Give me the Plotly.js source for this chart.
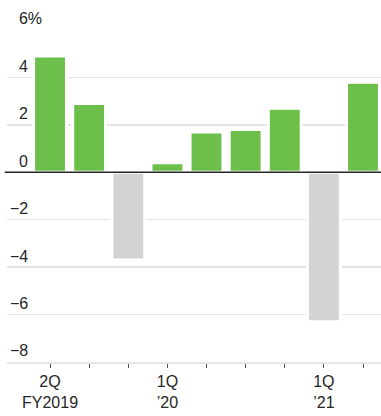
<!DOCTYPE html>
<html>
<head>
<meta charset="utf-8">
<script src="https://cdn.plot.ly/plotly-3.0.1.min.js"></script>
<style>
  html, body { margin: 0; padding: 0; background: #fff; }
  #chart { width: 381px; height: 416px; }
</style>
</head>
<body>
<div id="chart"></div>
<script>
// Quarterly change, percent
const quarters = ["2Q FY2019", "3Q FY2019", "4Q FY2019", "1Q FY2020", "2Q FY2020",
                  "3Q FY2020", "4Q FY2020", "1Q FY2021", "2Q FY2021"];
const changePct = [4.9, 2.9, -3.7, 0.4, 1.7, 1.8, 2.7, -6.3, 3.8];

const xTickText = ["2Q<br>FY2019", "", "", "1Q<br>\u201920", "", "", "", "1Q<br>\u201921", ""];
const yTickVals = [-8, -6, -4, -2, 0, 2, 4, 6];
const yTickText = ["\u22128", "\u22126", "\u22124", "\u22122", "0", "2", "4", "6%"];

const GREEN = "#6cbf4b";
const GREY = "#d3d3d3";
const INK = "#262626";

// positive labels get a figure space so digits line up and the minus hangs left
const yLabels = yTickText.map(t => t.startsWith("\u2212") ? t : "\u2007" + t);

const trace = {
  type: "bar",
  x: quarters,
  y: changePct,
  width: 0.84,
  marker: {
    color: changePct.map(v => v >= 0 ? GREEN : GREY),
    line: { color: "#ffffff", width: 3 }
  },
  hoverinfo: "x+y"
};

const layout = {
  width: 381,
  height: 416,
  margin: { l: 7, r: 0, t: 30, b: 54 },
  paper_bgcolor: "#ffffff",
  plot_bgcolor: "#ffffff",
  showlegend: false,
  font: { family: "Liberation Sans, Arial, sans-serif", size: 16, color: INK },
  bargap: 0,
  xaxis: {
    type: "category",
    range: [-1.1, 8.46],
    tickvals: quarters,
    ticktext: xTickText,
    ticks: "outside",
    ticklen: 4,
    tickwidth: 1,
    tickcolor: "#555",
    showgrid: false,
    showline: true,
    linecolor: "#e6e6e6",
    linewidth: 2,
    zeroline: false,
    tickfont: { size: 16, color: INK },
    fixedrange: true
  },
  yaxis: {
    range: [-8, 6],
    tickvals: yTickVals,
    ticktext: yLabels,
    ticklabelposition: "inside top",
    ticklabeloverflow: "allow",
    ticks: "",
    showline: false,
    showgrid: true,
    gridcolor: "#e4e4e4",
    gridwidth: 1.5,
    zeroline: false,
    tickfont: { size: 16, color: INK },
    fixedrange: true
  },
  shapes: [{
    type: "line",
    layer: "above",
    xref: "paper", yref: "y",
    x0: -0.006, x1: 1, y0: 0, y1: 0,
    line: { color: INK, width: 1.5 }
  }]
};

Plotly.newPlot("chart", [trace], layout, { displayModeBar: false, staticPlot: true });
</script>
</body>
</html>
